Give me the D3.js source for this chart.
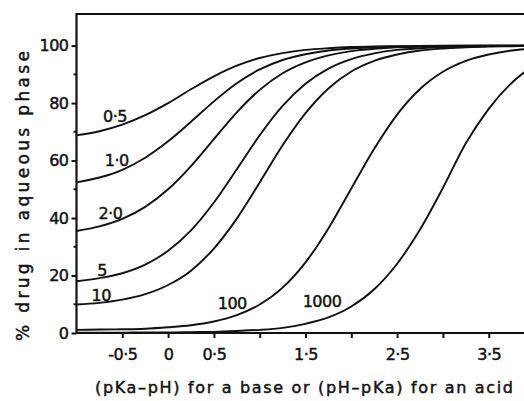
<!DOCTYPE html>
<html>
<head>
<meta charset="utf-8">
<script src="https://cdn.jsdelivr.net/npm/d3@7/dist/d3.min.js"></script>
<style>
  body { margin: 0; background: #fff; }
  svg { display: block; }
  text { font-family: "DejaVu Sans", sans-serif; fill: #111; stroke: #111; stroke-width: 0.45px; }
</style>
</head>
<body>
<div class="chart"></div>
<script>
// pKa-pH values where curves were read
const xVals = [-1, -0.75, -0.5, -0.25, 0, 0.25, 0.5, 0.75, 1, 1.25, 1.5, 1.75, 2, 2.25, 2.5, 2.75, 3, 3.25, 3.5, 3.75, 3.9]

// % drug in aqueous phase, one array per partition coefficient
const p05 = [68.8, 70.2, 72.5, 75.8, 80, 84.8, 89.3, 93, 95.7, 97.4, 98.5, 99.1, 99.5, 99.7, 99.8, 99.9, 99.95, 99.97, 99.98, 99.99, 99.99]
const p1 = [52.4, 54.1, 56.8, 61, 66.7, 73.5, 80.6, 86.9, 91.7, 95, 97, 98.3, 99, 99.4, 99.7, 99.8, 99.9, 99.94, 99.97, 99.98, 99.99]
const p2 = [35.5, 37.1, 39.7, 43.9, 50, 58.1, 67.5, 76.8, 84.6, 90.4, 94.2, 96.6, 98.1, 98.9, 99.4, 99.65, 99.8, 99.9, 99.94, 99.96, 99.97]
const p5 = [18, 19.1, 20.8, 23.8, 28.6, 35.7, 45.4, 57, 68.8, 79, 86.7, 92, 95.3, 97.3, 98.5, 99.1, 99.5, 99.7, 99.84, 99.9, 99.94]
const p10 = [9.9, 10.5, 11.6, 13.5, 16.7, 21.7, 29.4, 39.8, 52.4, 65.3, 76.5, 85.1, 91, 94.7, 96.9, 98.3, 99, 99.4, 99.7, 99.8, 99.87]
const p100 = [1.1, 1.2, 1.3, 1.5, 2, 2.7, 4, 6.2, 9.9, 15.8, 24.6, 36.4, 50.3, 64.1, 76, 84.9, 90.9, 94.7, 96.9, 98.3, 98.8]
const p1000 = [0.1, 0.1, 0.1, 0.2, 0.2, 0.3, 0.4, 0.7, 1.1, 1.8, 3.2, 5.4, 9.2, 15.2, 24.1, 36, 50.5, 66, 78, 87, 91]

const curveLabels = ['0·5', '1·0', '2·0', '5', '10', '100', '1000']
const yTicks = [0, 20, 40, 60, 80, 100]
const yMinor = [10, 30, 50, 70, 90]
const xTicks = [-0.5, 0, 0.5, 1, 1.5, 2, 2.5, 3, 3.5]
const xTickLabels = ['-0·5', '0', '0·5', '', '1·5', '', '2·5', '', '3·5']

const series = [p05, p1, p2, p5, p10, p100, p1000]
// where each curve's name sits, in data units
const labelPos = [[-0.58, 75.5], [-0.56, 60], [-0.63, 41.5], [-0.72, 22], [-0.73, 13.3], [0.7, 10.5], [1.68, 11.2]]

const width = 524
const height = 401

const x = d3.scaleLinear().domain([-1, 3.885]).range([76.5, 524])
const y = d3.scaleLinear().domain([0, 111]).range([333, 14])

const svg = d3.select('.chart')
  .append('svg')
  .attr('width', width)
  .attr('height', height)

svg.append('clipPath').attr('id', 'clip')
  .append('rect')
  .attr('x', x(-1)).attr('y', y(111))
  .attr('width', x(3.885) - x(-1)).attr('height', y(0) - y(111))

// curves
const line = d3.line()
  .x((d, i) => x(xVals[i]))
  .y(d => y(d))
  .curve(d3.curveMonotoneX)

svg.append('g')
  .attr('clip-path', 'url(#clip)')
  .selectAll('path')
  .data(series)
  .enter()
  .append('path')
  .attr('d', d => line(d))
  .attr('fill', 'none')
  .attr('stroke', '#111')
  .attr('stroke-width', 1.9)

// y axis
const yAxis = svg.append('g').attr('transform', 'translate(' + x(-1) + ',0)')
yAxis.call(d3.axisLeft(y).tickValues(yTicks).tickSize(5).tickPadding(3).tickFormat(d3.format('d')))
yAxis.selectAll('line').attr('stroke', '#111').attr('stroke-width', 2)
yAxis.selectAll('text').attr('font-size', 16).attr('letter-spacing', -0.5)
yAxis.select('.domain').remove()
yAxis.selectAll('.minor')
  .data(yMinor)
  .enter()
  .append('line')
  .attr('x1', -3).attr('x2', 0)
  .attr('y1', d => y(d)).attr('y2', d => y(d))
  .attr('stroke', '#111').attr('stroke-width', 2)

// x axis
const xAxis = svg.append('g').attr('transform', 'translate(0,' + y(0) + ')')
xAxis.call(d3.axisBottom(x).tickValues(xTicks).tickSize(5).tickPadding(11).tickFormat((d, i) => xTickLabels[i]))
xAxis.selectAll('line').attr('stroke', '#111').attr('stroke-width', 2)
xAxis.selectAll('text').attr('font-size', 16).attr('letter-spacing', -0.5)
xAxis.select('.domain').remove()

// frame: left, top and bottom lines
svg.append('path')
  .attr('d', 'M' + width + ',' + y(111) + 'H' + x(-1) + 'V' + y(0) + 'H' + width)
  .attr('fill', 'none')
  .attr('stroke', '#111')
  .attr('stroke-width', 2.2)

// curve names
svg.selectAll('.clabel')
  .data(curveLabels)
  .enter()
  .append('text')
  .attr('class', 'clabel')
  .attr('x', (d, i) => x(labelPos[i][0]))
  .attr('y', (d, i) => y(labelPos[i][1]))
  .attr('dy', '0.36em')
  .attr('text-anchor', 'middle')
  .attr('font-size', 16)
  .attr('letter-spacing', -0.5)
  .text(d => d)

// axis titles
svg.append('text')
  .attr('x', 304)
  .attr('y', 393)
  .attr('text-anchor', 'middle')
  .attr('font-size', 16)
  .attr('textLength', 418)
  .attr('lengthAdjust', 'spacing')
  .text('(pKa–pH) for a base or (pH–pKa) for an acid')

svg.append('text')
  .attr('transform', 'translate(29,196) rotate(-90)')
  .attr('text-anchor', 'middle')
  .attr('font-size', 17)
  .attr('textLength', 290)
  .attr('lengthAdjust', 'spacing')
  .text('% drug in aqueous phase')
</script>
</body>
</html>
